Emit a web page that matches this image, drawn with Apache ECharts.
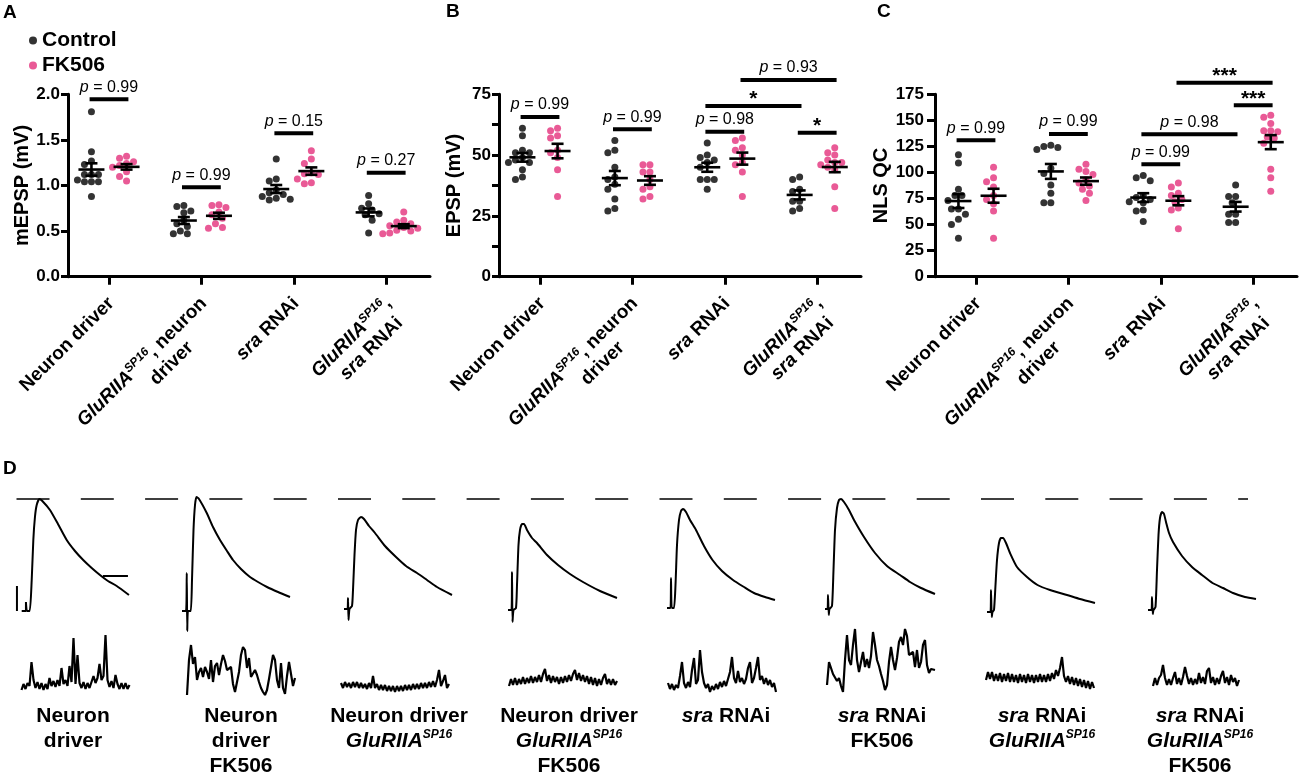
<!DOCTYPE html>
<html>
<head>
<meta charset="utf-8">
<script src="https://cdn.jsdelivr.net/npm/echarts@6/dist/echarts.min.js"></script>
<style>
  html, body { margin: 0; background: #fff; }
  #chart { width: 1300px; height: 777px; }
</style>
</head>
<body>
<div id="chart"></div>
<script>
// x axis labels of panels A, B, C (rich text: i = italic, s = superscript, p/q = indent)
var categoryLabels = [
  '{t|Neuron driver}',
  '{i|GluRIIA}{s|SP16}{t|, neuron}\n{p| }{t|driver}',
  '{i|sra}{t| RNAi}',
  '{i|GluRIIA}{s|SP16}{t|,}\n{q| }{i|sra}{t| RNAi}'
];

// A - mEPSP amplitude (mV), one list per genotype
var mepspControl = [
  [1.81, 1.37, 1.27, 1.23, 1.12, 1.12, 1.12, 1.06, 1.04, 1.04, 1.04, 0.88],
  [0.78, 0.77, 0.72, 0.70, 0.62, 0.58, 0.55, 0.50, 0.47, 0.47],
  [1.29, 1.07, 1.05, 0.95, 0.92, 0.90, 0.88, 0.86, 0.85, 0.84],
  [0.89, 0.80, 0.75, 0.73, 0.69, 0.68, 0.62, 0.48]
];
var mepspFK506 = [
  [1.32, 1.30, 1.26, 1.24, 1.22, 1.20, 1.15, 1.10, 1.05],
  [0.79, 0.78, 0.76, 0.71, 0.68, 0.64, 0.58, 0.54, 0.53],
  [1.38, 1.29, 1.24, 1.14, 1.13, 1.12, 1.07, 1.03, 1.02],
  [0.71, 0.62, 0.60, 0.58, 0.56, 0.54, 0.53, 0.51, 0.50, 0.48, 0.47]
];

// B - EPSP amplitude (mV)
var epspControl = [
  [61, 58, 52, 51, 51, 49, 48, 47, 47, 44, 41, 40],
  [56, 52, 51, 45, 41, 40, 38, 36, 32, 28, 27],
  [55, 50, 49, 48, 47, 45, 40, 40, 40, 36],
  [41, 40, 36, 35, 31, 31, 28, 27]
];
var epspFK506 = [
  [61, 60, 58, 57, 52, 51, 49, 44, 33],
  [46, 46, 43, 43, 40, 37, 36, 33, 32],
  [57, 56, 53, 52, 50, 47, 46, 43, 33],
  [53, 51, 50, 48, 47, 47, 46, 45, 44, 37, 28]
];

// C - quantal content (NLS corrected)
var qcControl = [
  [117, 109, 84, 78, 78, 73, 65, 65, 60, 55, 50, 37],
  [126, 125, 124, 122, 104, 99, 88, 80, 71, 71],
  [97, 95, 92, 78, 76, 74, 72, 71, 64, 63, 53],
  [88, 77, 77, 71, 60, 60, 52, 52]
];
var qcFK506 = [
  [105, 95, 91, 86, 78, 74, 70, 63, 37],
  [108, 103, 101, 98, 93, 90, 87, 84, 80, 73],
  [90, 86, 80, 78, 74, 72, 66, 64, 46],
  [155, 153, 147, 140, 140, 139, 134, 133, 128, 103, 95, 82]
];

// comparisons: [panel, group a, group b, bar value, text]; group = 2*category + (0 control | 1 FK506)
var comparisons = [
  [0, 0, 1, 1.945, 'p = 0.99'],
  [0, 2, 3, 0.98, 'p = 0.99'],
  [0, 4, 5, 1.572, 'p = 0.15'],
  [0, 6, 7, 1.141, 'p = 0.27'],
  [1, 0, 1, 65.7, 'p = 0.99'],
  [1, 2, 3, 60.6, 'p = 0.99'],
  [1, 4, 5, 59.6, 'p = 0.98'],
  [1, 4, 6, 70.2, '*'],
  [1, 6, 7, 59.2, '*'],
  [1, 5, 7, 80.9, 'p = 0.93'],
  [2, 0, 1, 131, 'p = 0.99'],
  [2, 2, 3, 137, 'p = 0.99'],
  [2, 4, 5, 107.8, 'p = 0.99'],
  [2, 4, 6, 136.6, 'p = 0.98'],
  [2, 6, 7, 164.4, '***'],
  [2, 5, 7, 186.2, '***']
];

// D - evoked EPSP traces, [ms, mV] from baseline
var epspTraces = [
  [[0, -0.4], [3.4, -0.4], [3.4, 3.2], [4.2, -0.4], [6.4, -0.4], [8, 12], [9.3, 28], [10.6, 37.2], [12, 42], [14.1, 44.4], [16.5, 43.6], [22.6, 40], [29, 34.4], [36, 28], [42.6, 23.6], [49.2, 20], [56, 16.8], [62.6, 14], [69, 11.6], [76, 9.6], [85.8, 6]],
  [[0, -0.4], [3.2, -0.4], [3.8, 14.8], [4.2, -8.4], [4.8, -0.4], [7, -0.4], [8, 12], [9.2, 32], [10.4, 42], [11.6, 45.2], [13.6, 44.4], [19.8, 38.8], [24.8, 33.2], [30.4, 28], [36, 23.6], [40.8, 20], [47.2, 16.4], [54.4, 13.2], [60.8, 11.2], [68, 9.2], [76.8, 7.2], [86.4, 5.2]],
  [[0, 0.4], [2.8, 0.4], [3.2, 4.8], [3.6, -4], [4.4, 0.4], [6.4, 1.6], [7.2, 8], [8.4, 22], [9.6, 32], [11.2, 36], [13.6, 37.2], [16, 36.4], [20, 33.6], [24.8, 30.8], [32.8, 25.6], [41.6, 21.2], [49.6, 17.6], [58.4, 14.8], [66.4, 12], [74.4, 9.2], [86.4, 6]],
  [[0, 0], [2.8, 0], [3.2, 15.2], [3.6, -4.8], [4.4, 0], [6.4, 0.8], [7.2, 10], [8.4, 26], [9.6, 32], [11.2, 34.4], [12.8, 34.4], [15.2, 32], [19.2, 28.8], [23.2, 26.8], [31.2, 22], [40, 18], [49.6, 14.4], [60, 11.2], [73.6, 7.6], [87.2, 4.8]],
  [[0, 0.8], [2.8, 0.8], [3.2, 12.8], [3.8, 0.8], [5.6, 0.8], [6.8, 10], [8, 26], [9.6, 36], [11.2, 39.6], [12.8, 40.4], [15.2, 39.2], [18.4, 36], [23.2, 32], [29.6, 25.6], [36.4, 20], [44, 15.6], [52.8, 12], [61.6, 9.2], [69.6, 6.8], [78.4, 5.2], [86.4, 4]],
  [[0, 0.4], [2, 0.4], [2.4, 6], [3, -2], [3.6, 0.4], [5.6, 1.6], [6.8, 16], [8, 32], [9.6, 40.8], [11.2, 44], [12.8, 44.4], [15.2, 43.2], [19.2, 40], [23.2, 36], [31.2, 29.2], [40, 22.8], [49.6, 17.6], [60, 14], [68, 11.2], [76.8, 8.8], [88, 6.4]],
  [[0, -0.8], [2.8, -0.8], [3.2, 8], [3.8, -2.8], [4.4, -0.8], [5.6, 0], [6.8, 10], [8, 20], [9.6, 26.8], [11.2, 28.8], [12.8, 28.8], [15.2, 26.8], [18.4, 22.8], [24, 17.2], [32, 13.2], [40.4, 10], [50.4, 8], [64, 6], [74.4, 4.4], [86.4, 2.8]],
  [[0, 0], [2.8, 0], [3.2, 5.2], [3.8, -1.6], [4.4, 0], [6, 1.2], [7.2, 16], [8.4, 30], [9.6, 36.8], [11.2, 39.2], [12.8, 38.4], [14.4, 35.2], [16.8, 30.8], [20, 27.2], [27.2, 21.6], [35.2, 17.2], [43.2, 14], [51.6, 10.8], [60, 8.8], [68, 6.8], [77.6, 5.2], [86.4, 4.4]]
];

// D - spontaneous mEPSP traces, mV sampled every 20 ms
var miniStepMs = 20;
var miniTraces = [
  [-0.10, 0.02, -0.08, 0.04, -0.02, 0.46, 0.10, -0.06, 0.06, -0.08, 0.04, -0.10, 0.02, -0.08, 0.14, -0.02, 0.08, -0.04, 0.10, -0.02, 0.34, 0.02, 0.10, -0.02, 0.38, 0.06, 0.94, 0.02, 0.60, 0.04, -0.06, 0.06, -0.08, 0.04, -0.06, 0.06, 0.18, 0.04, 0.14, 0.42, 0.10, 0.18, 1.00, 0.10, -0.04, 0.08, -0.06, 0.20, 0.02, -0.08, 0.04, -0.08, 0.04, -0.08, 0.00],
  [-0.20, 0.50, 0.80, 0.42, 0.56, 0.10, 0.26, 0.34, 0.16, 0.36, 0.26, 0.12, 0.50, 0.06, 0.38, 0.44, 0.20, 0.42, 0.60, 0.48, 0.30, 0.26, 0.36, 0.02, -0.14, -0.10, 0.26, 0.60, 0.76, 0.70, 0.34, 0.54, 0.16, 0.14, 0.30, 0.20, 0.06, -0.06, -0.14, -0.20, -0.10, 0.12, 0.36, 0.60, 0.50, 0.10, -0.06, 0.44, -0.06, -0.18, 0.18, 0.46, 0.50, -0.02, 0.14],
  [0.04, -0.06, 0.06, -0.04, 0.04, -0.06, 0.06, -0.04, 0.06, -0.06, 0.04, -0.06, 0.02, -0.08, 0.04, -0.06, 0.18, -0.06, 0.02, -0.10, 0.00, -0.10, 0.00, -0.12, -0.02, -0.12, -0.02, -0.14, -0.02, -0.12, -0.02, -0.12, 0.00, -0.10, 0.00, -0.10, 0.02, -0.08, 0.02, -0.08, 0.04, -0.06, 0.04, -0.06, 0.06, -0.04, 0.08, -0.04, 0.10, 0.30, -0.02, 0.08, 0.20, -0.06, 0.02],
  [-0.02, 0.12, 0.00, 0.14, 0.00, 0.12, 0.02, 0.16, 0.02, 0.14, 0.04, 0.18, 0.04, 0.16, 0.06, 0.20, 0.06, 0.22, 0.32, 0.08, 0.20, 0.04, 0.18, 0.06, 0.16, 0.02, 0.16, 0.04, 0.18, 0.06, 0.20, 0.08, 0.22, 0.30, 0.10, 0.24, 0.08, 0.20, 0.06, 0.18, 0.02, 0.16, 0.00, 0.14, -0.02, 0.12, 0.00, 0.14, 0.22, 0.02, 0.12, 0.00, 0.12, 0.00, 0.08],
  [0.04, -0.08, 0.02, -0.10, 0.00, -0.06, 0.18, 0.46, 0.04, -0.06, 0.06, -0.04, 0.30, 0.54, 0.02, 0.10, 0.70, 0.26, 0.04, -0.06, 0.02, -0.14, -0.02, -0.10, 0.02, -0.08, 0.06, -0.04, 0.08, -0.02, 0.12, 0.26, 0.56, 0.14, 0.04, 0.28, 0.06, 0.14, 0.02, 0.12, 0.34, 0.46, 0.04, 0.14, 0.34, 0.56, 0.10, 0.18, 0.02, 0.14, 0.00, 0.10, -0.04, 0.04, -0.14],
  [0.00, 0.46, 0.34, 0.22, 0.26, 0.08, 0.14, -0.02, -0.14, 0.50, 1.00, 0.50, 0.40, 0.80, 1.12, 0.50, 0.26, 0.46, 0.66, 0.36, 0.52, 0.34, 0.58, 1.06, 0.80, 0.50, 0.38, 0.22, 0.08, -0.10, 0.00, 0.46, 0.76, 0.50, 0.30, 0.54, 0.86, 0.96, 0.80, 1.12, 0.98, 0.60, 0.58, 0.66, 0.36, 0.70, 0.34, 0.46, 0.80, 0.90, 0.40, 0.24, 0.32, 0.30, 0.30],
  [0.10, 0.26, 0.12, 0.26, 0.08, 0.22, 0.08, 0.24, 0.06, 0.22, 0.08, 0.24, 0.06, 0.22, 0.06, 0.20, 0.04, 0.22, 0.06, 0.20, 0.04, 0.22, 0.06, 0.20, 0.04, 0.20, 0.06, 0.22, 0.06, 0.20, 0.06, 0.22, 0.08, 0.24, 0.12, 0.30, 0.18, 0.34, 0.56, 0.18, 0.06, 0.18, 0.02, 0.16, 0.00, 0.14, -0.02, 0.12, -0.04, 0.10, -0.06, 0.08, -0.08, 0.06, -0.06],
  [-0.02, 0.14, 0.00, 0.14, 0.20, 0.40, 0.14, 0.00, 0.12, 0.00, 0.14, 0.26, 0.02, 0.14, 0.00, 0.16, 0.36, 0.18, 0.02, 0.14, 0.00, 0.12, 0.02, 0.24, 0.04, 0.16, 0.02, 0.28, 0.34, 0.04, 0.16, 0.00, 0.14, 0.02, 0.18, 0.28, 0.04, 0.16, 0.00, 0.20, 0.06, 0.14, -0.02, 0.10]
];

var traceLabels = [
  '{b|Neuron}\n{b|driver}',
  '{b|Neuron}\n{b|driver}\n{b|FK506}',
  '{b|Neuron driver}\n{i|GluRIIA}{s|SP16}',
  '{b|Neuron driver}\n{i|GluRIIA}{s|SP16}\n{b|FK506}',
  '{i|sra}{b| RNAi}',
  '{i|sra}{b| RNAi}\n{b|FK506}',
  '{i|sra}{b| RNAi}\n{i|GluRIIA}{s|SP16}',
  '{i|sra}{b| RNAi}\n{i|GluRIIA}{s|SP16}\n{b|FK506}'
];

// scale bars drawn next to the first EPSP trace
var scaleBarMs = 20;
var scaleBarMv = 10;

// ---------- layout ----------
var fontFamily = '"Liberation Sans", Arial, Helvetica, sans-serif';
var pink = '#e3317c';
var plotTop = 94.3, plotH = 182.4, plotW = 362, catStep = 92.4, firstCat = 41;
var xMin = -firstCat / catStep, xMax = xMin + plotW / catStep;
var groupShift = 0.19;
var epspLeft = [21.7, 182, 344, 508, 667, 825, 987, 1148];
var miniLeft = [21.5, 187, 341, 509, 668, 827, 986, 1153];
var labelX = [73, 241, 399, 569, 726, 882, 1042, 1200];

var panels = [
  { ctrl: mepspControl, fk: mepspFK506, title: 'mEPSP (mV)', max: 2, interval: 0.5, left: 68, nameGap: 34, tickLen: 7, margin: 8,
    fmt: function (v) { return v.toFixed(1); } },
  { ctrl: epspControl, fk: epspFK506, title: 'EPSP (mV)', max: 75, interval: 12.5, left: 499, nameGap: 35, tickLen: 7, margin: 8,
    fmt: function (v) { return v % 25 === 0 ? String(v) : ''; } },
  { ctrl: qcControl, fk: qcFK506, title: 'NLS QC', max: 175, interval: 25, left: 935, nameGap: 36, tickLen: 8, margin: 11,
    fmt: function (v) { return String(v); } }
];

// spread dots of one group sideways so they do not overlap (GraphPad style)
function swarm(values, pxPerUnit) {
  var d = 6.9, step = 3.5;
  var placed = [];
  var offs = [];
  var order = values.map(function (v, i) { return i; }).sort(function (a, b) { return values[b] - values[a]; });
  order.forEach(function (i) {
    var y = values[i] * pxPerUnit;
    var pos = null;
    for (var k = 0; pos === null && k < 30; k++) {
      var cands = k === 0 ? [0] : [-k * step, k * step];
      for (var c = 0; c < cands.length; c++) {
        var ok = placed.every(function (p) { return Math.hypot(p.x - cands[c], p.y - y) >= d; });
        if (ok) { pos = cands[c]; break; }
      }
    }
    placed.push({ x: pos, y: y });
    offs[i] = pos;
  });
  return offs;
}

function meanSem(values) {
  var n = values.length;
  var m = values.reduce(function (s, v) { return s + v; }, 0) / n;
  var ss = values.reduce(function (s, v) { return s + (v - m) * (v - m); }, 0);
  return [m, Math.sqrt(ss / (n - 1)) / Math.sqrt(n)];
}

function groupX(g) {
  return Math.floor(g / 2) + (g % 2 ? groupShift : -groupShift);
}

var catRich = {
  t: { fontSize: 19, fontWeight: 'bold', fontFamily: fontFamily, color: '#000', align: 'center', lineHeight: 22 },
  i: { fontSize: 19, fontWeight: 'bold', fontStyle: 'italic', fontFamily: fontFamily, color: '#000', align: 'center', lineHeight: 22 },
  s: { fontSize: 12, fontWeight: 'bold', fontStyle: 'italic', fontFamily: fontFamily, color: '#000', align: 'center', verticalAlign: 'top' },
  p: { fontSize: 19, width: 40, align: 'center', lineHeight: 22 },
  q: { fontSize: 19, width: 12, align: 'center', lineHeight: 22 }
};

var grids = [], xAxes = [], yAxes = [], series = [];

panels.forEach(function (p, pi) {
  grids.push({ left: p.left, top: plotTop, width: plotW, height: plotH, outerBoundsMode: 'none' });
  xAxes.push({
    type: 'value', gridIndex: pi, min: xMin, max: xMax,
    splitLine: { show: false },
    axisLine: { show: true, onZero: false, lineStyle: { color: '#000', width: 3 } },
    axisTick: { show: true, customValues: [0, 1, 2, 3], length: 8, lineStyle: { color: '#000', width: 3 } },
    axisLabel: {
      show: true, customValues: [-0.06, 0.94, 1.94, 2.94], rotate: 45, margin: 16, verticalAlign: 'top',
      fontSize: 19, fontWeight: 'bold', fontFamily: fontFamily, color: '#000',
      formatter: function (v) { return categoryLabels[Math.round(v)]; },
      rich: catRich
    }
  });
  yAxes.push({
    type: 'value', gridIndex: pi, min: 0, max: p.max, interval: p.interval,
    name: p.title, nameLocation: 'middle', nameGap: p.nameGap,
    nameTextStyle: { fontSize: 20, fontWeight: 'bold', fontFamily: fontFamily, color: '#000' },
    splitLine: { show: false },
    axisLine: { show: true, onZero: false, lineStyle: { color: '#000', width: 3 } },
    axisTick: { show: true, length: p.tickLen, lineStyle: { color: '#000', width: 3 } },
    axisLabel: { margin: p.margin, fontSize: 17, fontWeight: 'bold', fontFamily: fontFamily, color: '#000', formatter: p.fmt }
  });

  var pxPerUnit = plotH / p.max;
  var ctrlPts = [], fkPts = [], stats = [];
  for (var c = 0; c < 4; c++) {
    [[p.ctrl[c], ctrlPts, 2 * c], [p.fk[c], fkPts, 2 * c + 1]].forEach(function (grp) {
      var vals = grp[0], x0 = groupX(grp[2]);
      var offs = swarm(vals, pxPerUnit);
      vals.forEach(function (v, i) { grp[1].push([x0 + offs[i] / catStep, v]); });
      var ms = meanSem(vals);
      stats.push([x0, ms[0], ms[1]]);
    });
  }

  series.push({
    name: 'Control', type: 'scatter', xAxisIndex: pi, yAxisIndex: pi, data: ctrlPts,
    symbol: 'circle', symbolSize: 7, itemStyle: { color: '#000' }, z: 2
  });
  series.push({
    name: 'FK506', type: 'scatter', xAxisIndex: pi, yAxisIndex: pi, data: fkPts,
    symbol: 'circle', symbolSize: 7, itemStyle: { color: pink }, z: 2
  });
  series.push({
    type: 'custom', xAxisIndex: pi, yAxisIndex: pi, data: stats, z: 3, silent: true,
    encode: { x: 0, y: 1 },
    renderItem: function (params, api) {
      var x = api.value(0), m = api.value(1), s = api.value(2);
      var mid = api.coord([x, m]), hi = api.coord([x, m + s]), lo = api.coord([x, m - s]);
      var st = { stroke: '#000', lineWidth: 2.6 };
      return {
        type: 'group', children: [
          { type: 'line', shape: { x1: mid[0] - 13, y1: mid[1], x2: mid[0] + 13, y2: mid[1] }, style: st },
          { type: 'line', shape: { x1: mid[0], y1: hi[1], x2: mid[0], y2: lo[1] }, style: st },
          { type: 'line', shape: { x1: mid[0] - 6, y1: hi[1], x2: mid[0] + 6, y2: hi[1] }, style: st },
          { type: 'line', shape: { x1: mid[0] - 6, y1: lo[1], x2: mid[0] + 6, y2: lo[1] }, style: st }
        ]
      };
    }
  });

  var comps = comparisons.filter(function (r) { return r[0] === pi; });
  series.push({
    type: 'custom', xAxisIndex: pi, yAxisIndex: pi, z: 4, silent: true, clip: false,
    data: comps.map(function (r) { return [groupX(r[1]) - 0.02, groupX(r[2]) + 0.02, r[3]]; }),
    encode: { x: [0, 1], y: 2 },
    renderItem: function (params, api) {
      var a = api.coord([api.value(0), api.value(2)]);
      var b = api.coord([api.value(1), api.value(2)]);
      var txt = comps[params.dataIndex][4];
      var star = txt.charAt(0) === '*';
      return {
        type: 'group', children: [
          { type: 'line', shape: { x1: a[0], y1: a[1], x2: b[0], y2: b[1] }, style: { stroke: '#000', lineWidth: 4 } },
          {
            type: 'text', x: (a[0] + b[0]) / 2, y: star ? a[1] + 4 : a[1] - 4,
            style: star ? {
              text: txt, fontSize: 21, fontWeight: 'bold', fontFamily: fontFamily, fill: '#000',
              align: 'center', verticalAlign: 'bottom'
            } : {
              text: txt.replace(/^p/, '{i|p}'), fontSize: 16, fontFamily: fontFamily, fill: '#000',
              align: 'center', verticalAlign: 'bottom',
              rich: { i: { fontSize: 16, fontStyle: 'italic', fontFamily: fontFamily, fill: '#000' } }
            }
          }
        ]
      };
    }
  });
});

// D: evoked traces, 0.8 ms and 0.4 mV per pixel (x from -10 ms)
var epspTop = 485, epspH = 150, epspW = 137.5;
epspTraces.forEach(function (tr, i) {
  var gi = grids.length;
  grids.push({ left: epspLeft[i] - 12.5, top: epspTop, width: epspW, height: epspH, outerBoundsMode: 'none' });
  xAxes.push({ type: 'value', gridIndex: gi, min: -10, max: 100, show: false });
  yAxes.push({ type: 'value', gridIndex: gi, min: -10, max: 50, show: false });
  series.push({
    type: 'line', xAxisIndex: gi, yAxisIndex: gi, data: tr, showSymbol: false, clip: false, silent: true,
    lineStyle: { color: '#000', width: 2 }, smooth: 0.2
  });
  if (i === 0) {
    series.push({
      type: 'line', xAxisIndex: gi, yAxisIndex: gi, showSymbol: false, clip: false, silent: true,
      data: [[-3.8, -0.4], [-3.8, -0.4 + scaleBarMv]], lineStyle: { color: '#000', width: 2 }
    });
    series.push({
      type: 'line', xAxisIndex: gi, yAxisIndex: gi, showSymbol: false, clip: false, silent: true,
      data: [[65, 13.6], [65 + scaleBarMs, 13.6]], lineStyle: { color: '#000', width: 2 }
    });
  }
});

// D: spontaneous traces, 10 ms and 0.02 mV per pixel
miniTraces.forEach(function (tr, i) {
  var gi = grids.length;
  grids.push({ left: miniLeft[i], top: 625, width: 110, height: 80, outerBoundsMode: 'none' });
  xAxes.push({ type: 'value', gridIndex: gi, min: 0, max: 1100, show: false });
  yAxes.push({ type: 'value', gridIndex: gi, min: -0.4, max: 1.2, show: false });
  series.push({
    type: 'line', xAxisIndex: gi, yAxisIndex: gi, showSymbol: false, clip: false, silent: true,
    data: tr.map(function (v, k) { return [k * miniStepMs, v]; }),
    lineStyle: { color: '#000', width: 2.2, join: 'bevel' }
  });
});

// dashed line at the control EPSP peak, across all traces
var refPeak = Math.max.apply(null, epspTraces[0].map(function (pt) { return pt[1]; }));
var gRef = grids.length;
grids.push({ left: 16.5, top: epspTop, width: 1231.5, height: epspH, outerBoundsMode: 'none' });
xAxes.push({ type: 'value', gridIndex: gRef, min: 0, max: 1, show: false });
yAxes.push({ type: 'value', gridIndex: gRef, min: -10, max: 50, show: false });
series.push({
  type: 'line', xAxisIndex: gRef, yAxisIndex: gRef, showSymbol: false, silent: true,
  data: [[0, refPeak], [1, refPeak]],
  lineStyle: { color: '#000', width: 1.6, type: [33, 31.3] }
});

var dRich = {
  b: { fontSize: 21, fontWeight: 'bold', fontFamily: fontFamily, fill: '#000', lineHeight: 25 },
  i: { fontSize: 21, fontWeight: 'bold', fontStyle: 'italic', fontFamily: fontFamily, fill: '#000', lineHeight: 25 },
  s: { fontSize: 12, fontWeight: 'bold', fontStyle: 'italic', fontFamily: fontFamily, fill: '#000', verticalAlign: 'top' }
};

var graphics = [];
[['A', 3, 3], ['B', 446, 2], ['C', 877, 2], ['D', 3, 459]].forEach(function (l) {
  graphics.push({ type: 'text', x: l[1], y: l[2], style: { text: l[0], fontSize: 19, fontWeight: 'bold', fontFamily: fontFamily, fill: '#000' } });
});
traceLabels.forEach(function (t, i) {
  graphics.push({
    type: 'text', x: labelX[i], y: 704,
    style: { text: t, rich: dRich, align: 'center', verticalAlign: 'top', fontSize: 21, fontWeight: 'bold', fontFamily: fontFamily, fill: '#000' }
  });
});

var chart = echarts.init(document.getElementById('chart'));
chart.setOption({
  animation: false,
  backgroundColor: '#fff',
  legend: {
    data: ['Control', 'FK506'], orient: 'vertical', left: 24, top: 25, itemGap: 4,
    icon: 'circle', itemWidth: 8, itemHeight: 8, selectedMode: false,
    textStyle: { fontSize: 21, fontWeight: 'bold', fontFamily: fontFamily, color: '#000' }
  },
  grid: grids,
  xAxis: xAxes,
  yAxis: yAxes,
  series: series,
  graphic: graphics
});
</script>
</body>
</html>
